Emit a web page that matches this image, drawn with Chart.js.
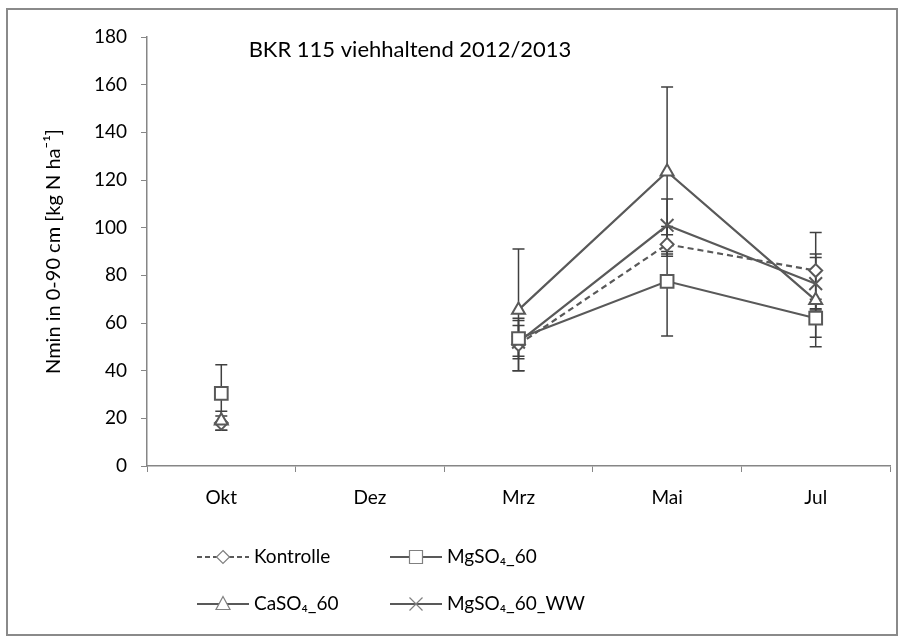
<!DOCTYPE html>
<html>
<head>
<meta charset="utf-8">
<script src="https://cdn.jsdelivr.net/npm/chart.js@4.4.1/dist/chart.umd.min.js"></script>
<style>
html, body { margin: 0; padding: 0; background: #fff; }
#wrap { position: relative; width: 904px; height: 639px; }
</style>
</head>
<body>
<div id="wrap"><canvas id="myChart" width="904" height="639"></canvas></div>
<script>
var labels = ['Okt', 'Dez', 'Mrz', 'Mai', 'Jul'];

var kontrolle    = [18, null, 51, 93, 82];
var kontrolleErr = [3, null, 11, 4, 16];
var mgso4        = [30.5, null, 53.5, 77.5, 62];
var mgso4Err     = [12, null, 7.5, 23, 8];
var caso4        = [19, null, 65.5, 123.5, 69.5];
var caso4Err     = [4, null, 25.5, 35.5, 19.5];
var mgso4ww      = [null, null, 52, 101, 76.5];
var mgso4wwErr   = [null, null, 7, 11, 11];

var errors = [kontrolleErr, mgso4Err, caso4Err, mgso4wwErr];

var lineColor = '#595959';
var fontFamily = 'Lato, "Open Sans", sans-serif';

// grey frame round the whole picture
var framePlugin = {
  id: 'frame',
  beforeDraw: function(chart) {
    var ctx = chart.ctx;
    ctx.save();
    ctx.fillStyle = '#fff';
    ctx.fillRect(0, 0, chart.width, chart.height);
    ctx.strokeStyle = '#8a8a8a';
    ctx.lineWidth = 2;
    ctx.strokeRect(7, 9, 890, 626);
    ctx.restore();
  }
};

// title sits inside the plot area, like in excel
var titlePlugin = {
  id: 'innerTitle',
  afterDraw: function(chart) {
    var ctx = chart.ctx;
    ctx.save();
    ctx.font = '22px ' + fontFamily;
    ctx.fillStyle = '#000';
    ctx.textAlign = 'center';
    ctx.textBaseline = 'middle';
    ctx.fillText('BKR 115 viehhaltend 2012/2013', 410, 50);
    ctx.restore();
  }
};

var errorBarPlugin = {
  id: 'errorBars',
  beforeDatasetsDraw: function(chart) {
    var ctx = chart.ctx;
    var yScale = chart.scales.y;
    ctx.save();
    ctx.strokeStyle = '#404040';
    ctx.lineWidth = 1.5;
    chart.data.datasets.forEach(function(ds, i) {
      var meta = chart.getDatasetMeta(i);
      ds.data.forEach(function(v, j) {
        var e = errors[i][j];
        if (v === null || e === null) return;
        var x = meta.data[j].x;
        var yTop = yScale.getPixelForValue(v + e);
        var yBot = yScale.getPixelForValue(v - e);
        ctx.beginPath();
        ctx.moveTo(x, yTop); ctx.lineTo(x, yBot);
        ctx.moveTo(x - 6, yTop); ctx.lineTo(x + 6, yTop);
        ctx.moveTo(x - 6, yBot); ctx.lineTo(x + 6, yBot);
        ctx.stroke();
      });
    });
    ctx.restore();
  }
};

function drawMarker(ctx, style, x, y) {
  ctx.beginPath();
  if (style === 'rectRot') {
    ctx.moveTo(x, y - 6.5); ctx.lineTo(x + 6.5, y); ctx.lineTo(x, y + 6.5); ctx.lineTo(x - 6.5, y); ctx.closePath();
    ctx.fill(); ctx.stroke();
  } else if (style === 'rect') {
    ctx.rect(x - 6.5, y - 6.5, 13, 13);
    ctx.fill(); ctx.stroke();
  } else if (style === 'triangle') {
    ctx.moveTo(x, y - 7.5); ctx.lineTo(x + 7, y + 5.5); ctx.lineTo(x - 7, y + 5.5); ctx.closePath();
    ctx.fill(); ctx.stroke();
  } else {
    ctx.moveTo(x - 6.5, y - 6.5); ctx.lineTo(x + 6.5, y + 6.5);
    ctx.moveTo(x + 6.5, y - 6.5); ctx.lineTo(x - 6.5, y + 6.5);
    ctx.stroke();
  }
}

// two column legend under the axis
var legendPlugin = {
  id: 'gridLegend',
  afterDraw: function(chart) {
    var ctx = chart.ctx;
    var spots = [[197, 557], [390, 557], [197, 604], [390, 604]];
    ctx.save();
    chart.data.datasets.forEach(function(ds, i) {
      var x = spots[i][0], y = spots[i][1];
      ctx.strokeStyle = lineColor;
      ctx.lineWidth = 2;
      ctx.setLineDash(ds.borderDash && ds.borderDash.length ? [5, 3] : []);
      ctx.beginPath();
      ctx.moveTo(x, y); ctx.lineTo(x + 52, y);
      ctx.stroke();
      ctx.setLineDash([]);
      ctx.strokeStyle = '#808080';
      ctx.fillStyle = '#fff';
      ctx.lineWidth = 1.2;
      drawMarker(ctx, ds.pointStyle, x + 26, y);
      ctx.fillStyle = '#000';
      ctx.font = '19px ' + fontFamily;
      ctx.textAlign = 'left';
      ctx.textBaseline = 'middle';
      ctx.fillText(ds.label, x + 57, y);
    });
    ctx.restore();
  }
};

function series(label, data, style, radius, dash, order) {
  return {
    label: label,
    data: data,
    order: order,
    borderColor: lineColor,
    backgroundColor: '#fff',
    borderWidth: 2.2,
    borderDash: dash,
    pointStyle: style,
    pointRadius: radius,
    pointBorderWidth: 2,
    pointBorderColor: lineColor,
    pointBackgroundColor: '#fff',
    tension: 0,
    spanGaps: false
  };
}

var myChartObject = document.getElementById('myChart');

var chart = new Chart(myChartObject, {
  type: 'line',
  data: {
    labels: labels,
    datasets: [
      series('Kontrolle', kontrolle, 'rectRot', 6.5, [6, 4], 4),
      series('MgSO₄_60', mgso4, 'rect', 9, [], 1),
      series('CaSO₄_60', caso4, 'triangle', 7.5, [], 2),
      series('MgSO₄_60_WW', mgso4ww, 'crossRot', 9, [], 3)
    ]
  },
  options: {
    responsive: false,
    animation: false,
    devicePixelRatio: 1,
    layout: { padding: { left: 0, right: 14, top: 37, bottom: 113 } },
    plugins: {
      legend: { display: false },
      tooltip: { enabled: false }
    },
    scales: {
      x: {
        offset: true,
        grid: { offset: true, drawOnChartArea: false, drawTicks: true, tickLength: 6, color: '#868686' },
        border: { color: '#868686', width: 1.5 },
        ticks: { color: '#000', padding: 14, font: { family: fontFamily, size: 19 } },
        afterFit: function(scale) { scale.height = 60; }
      },
      y: {
        min: 0,
        max: 180,
        ticks: { stepSize: 20, color: '#000', padding: 14, font: { family: fontFamily, size: 19 } },
        grid: { drawOnChartArea: false, drawTicks: true, tickLength: 6, color: '#868686' },
        border: { color: '#868686', width: 1.5 },
        title: {
          display: true,
          text: 'Nmin in 0-90 cm [kg N ha⁻¹]',
          color: '#000',
          font: { family: fontFamily, size: 20 },
          padding: { top: 42, bottom: 0 }
        },
        afterFit: function(scale) { scale.width = 147; }
      }
    }
  },
  plugins: [framePlugin, errorBarPlugin, titlePlugin, legendPlugin]
});
</script>
</body>
</html>
